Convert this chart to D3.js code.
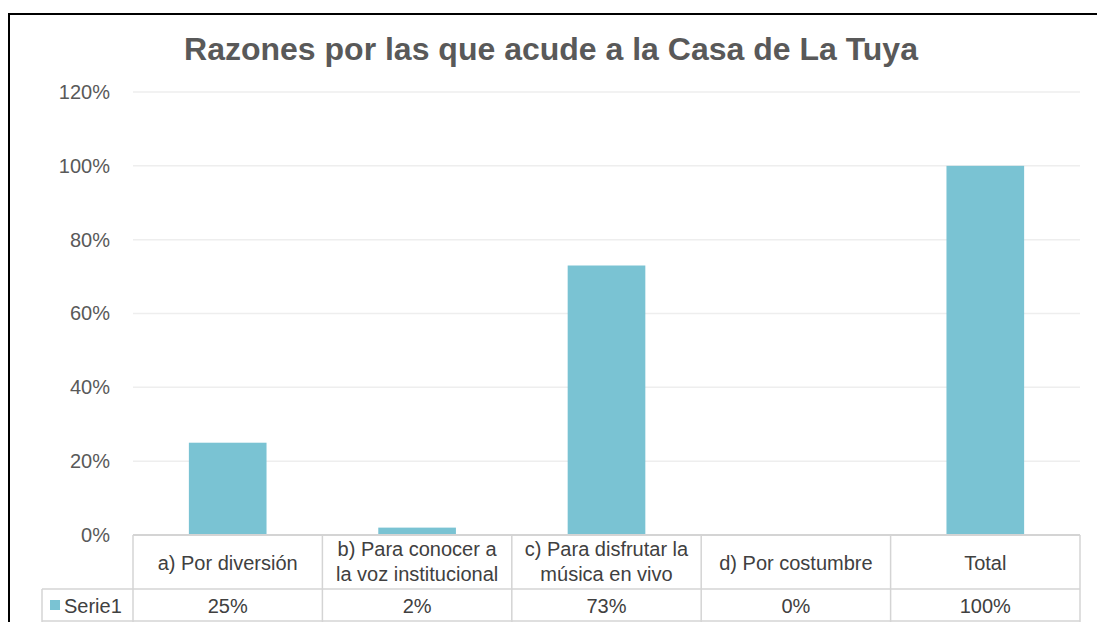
<!DOCTYPE html>
<html>
<head>
<meta charset="utf-8">
<script src="https://cdn.jsdelivr.net/npm/d3@7"></script>
<style>
  body { margin: 0; background: #fff; }
  svg { display: block; font-family: "Liberation Sans", Arial, sans-serif; }
</style>
</head>
<body>
<svg id="drawing_region"></svg>
<script>
const categories = [
    ["a) Por diversión"],
    ["b) Para conocer a", "la voz institucional"],
    ["c) Para disfrutar la", "música en vivo"],
    ["d) Por costumbre"],
    ["Total"]
];
const values = [25, 2, 73, 0, 100];
const valueLabels = ["25%", "2%", "73%", "0%", "100%"];
const yTicks = [0, 20, 40, 60, 80, 100, 120];
const seriesName = "Serie1";
const title = "Razones por las que acude a la Casa de La Tuya";

const width = 1097, height = 622;
const margin = {top: 92, left: 133, right: 17, bottom: 87};
const barColor = "#7ac3d3";
const lineColor = "#d4d4d4";
const fontSize = '20px';

const svg = d3.select('#drawing_region')
    .attr('width', width)
    .attr('height', height);

// outer frame
svg.append('rect')
    .attr('x', 9).attr('y', 14)
    .attr('width', width + 10).attr('height', height + 10)
    .attr('fill', 'none')
    .attr('stroke', '#000')
    .attr('stroke-width', 2);

svg.append('text')
    .attr('x', 551).attr('y', 60)
    .attr('text-anchor', 'middle')
    .style('font-size', '32px')
    .style('font-weight', 'bold')
    .style('fill', '#595959')
    .text(title);

const inner_width = width - margin.left - margin.right;
const plotBottom = 535;

const xscale = d3.scaleBand()
    .domain(d3.range(categories.length))
    .range([margin.left, margin.left + inner_width])
    .paddingInner(0).paddingOuter(0);
const yscale = d3.scaleLinear()
    .domain([0, 120])
    .range([plotBottom, margin.top]);

// gridlines
svg.append('g')
    .selectAll('line')
    .data(yTicks.filter(d => d > 0))
    .join('line')
    .attr('x1', margin.left).attr('x2', margin.left + inner_width)
    .attr('y1', d => yscale(d)).attr('y2', d => yscale(d))
    .attr('stroke', '#eeeeee')
    .attr('stroke-width', 1.5);

// y axis
const yaxis = d3.axisLeft(yscale)
    .tickValues(yTicks)
    .tickFormat(d => d + '%')
    .tickSize(0)
    .tickPadding(23);
svg.append('g')
    .attr('transform', `translate(${margin.left}, 0)`)
    .call(yaxis)
    .call(g => g.select('.domain').remove())
    .selectAll('text')
    .style('font-size', fontSize)
    .style('fill', '#595959')
    .style('font-family', '"Liberation Sans", Arial, sans-serif');

// bars
const barW = xscale.bandwidth() * 0.41;
svg.append('g')
    .selectAll('rect')
    .data(values)
    .join('rect')
    .attr('x', (d, i) => xscale(i) + (xscale.bandwidth() - barW) / 2)
    .attr('y', d => yscale(d))
    .attr('width', barW)
    .attr('height', d => plotBottom - yscale(d))
    .attr('fill', barColor);

// data table
const row1 = plotBottom, row2 = 589, row3 = 622;
const legendLeft = 42;
const table = svg.append('g')
    .attr('stroke', lineColor)
    .attr('stroke-width', 1.5);
table.append('line')
    .attr('x1', margin.left).attr('x2', margin.left + inner_width)
    .attr('y1', row1).attr('y2', row1)
    .attr('stroke-width', 2);
table.append('line')
    .attr('x1', legendLeft).attr('x2', margin.left + inner_width)
    .attr('y1', row2).attr('y2', row2);
table.append('line')
    .attr('x1', legendLeft).attr('x2', margin.left + inner_width)
    .attr('y1', row3 - 1).attr('y2', row3 - 1);
table.append('line')
    .attr('x1', legendLeft).attr('x2', legendLeft)
    .attr('y1', row2).attr('y2', row3);
table.selectAll('line.v')
    .data(d3.range(categories.length + 1))
    .join('line')
    .attr('class', 'v')
    .attr('x1', i => i < categories.length ? xscale(i) : xscale.range()[1])
    .attr('x2', i => i < categories.length ? xscale(i) : xscale.range()[1])
    .attr('y1', row1).attr('y2', row3);

// category labels
const catText = svg.append('g')
    .selectAll('text')
    .data(categories)
    .join('text')
    .attr('text-anchor', 'middle')
    .style('font-size', fontSize)
    .style('fill', '#404040')
    .attr('x', (d, i) => xscale(i) + xscale.bandwidth() / 2)
    .attr('y', d => d.length > 1 ? 556 : 570);
catText.selectAll('tspan')
    .data(d => d)
    .join('tspan')
    .attr('x', function() { return d3.select(this.parentNode).attr('x'); })
    .attr('dy', (d, i) => i === 0 ? 0 : 25)
    .text(d => d);

// values row
svg.append('g')
    .selectAll('text')
    .data(valueLabels)
    .join('text')
    .attr('text-anchor', 'middle')
    .style('font-size', fontSize)
    .style('fill', '#404040')
    .attr('x', (d, i) => xscale(i) + xscale.bandwidth() / 2)
    .attr('y', 613)
    .text(d => d);

// legend key
svg.append('rect')
    .attr('x', 50).attr('y', 600)
    .attr('width', 10).attr('height', 10)
    .attr('fill', barColor);
svg.append('text')
    .attr('x', 64).attr('y', 613)
    .style('font-size', fontSize)
    .style('fill', '#404040')
    .text(seriesName);
</script>
</body>
</html>
